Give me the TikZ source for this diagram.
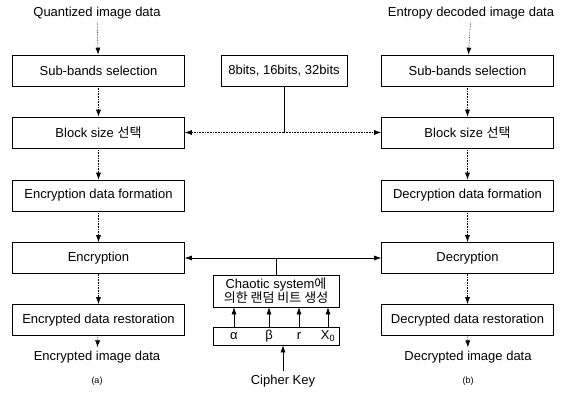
\documentclass[tikz,border=0pt]{standalone}
\usepackage{fontspec}
\setmainfont{Liberation Sans}
\newfontfamily\kr{Noto Sans CJK KR}
\usetikzlibrary{positioning,arrows.meta}

\begin{document}
\begin{tikzpicture}[x=1pt,y=-1pt,font=\fontsize{13}{14}\selectfont,line width=0.6pt,
	blk/.style={draw,minimum width=172pt,minimum height=31pt,inner sep=0pt},
	flow/.style={densely dotted,-{Latex[length=7pt,width=5pt]}},
	feed/.style={-{Latex[length=7pt,width=5pt]}}]
	\useasboundingbox (0,0) rectangle (564,409);
	% encryption side (a)
	\node (qin) at (97,13) {Quantized image data};
	\node[blk] (lsub) at (98.5,70.5) {Sub-bands selection};
	\node[blk] (lblk) at (98.5,132.5) {Block size {\kr 선택}};
	\node[blk] (lform) at (98.5,195.5) {Encryption data formation};
	\node[blk] (lenc) at (98.5,258) {Encryption};
	\node[blk] (lres) at (98.5,320) {Encrypted data restoration};
	\node (lout) at (97,357) {Encrypted image data};
	\node[font=\fontsize{9}{10}\selectfont] (la) at (97,381) {(a)};
	\draw[flow] (qin) -- (lsub);
	\draw[flow] (lsub) -- (lblk);
	\draw[flow] (lblk) -- (lform);
	\draw[flow] (lform) -- (lenc);
	\draw[flow] (lenc) -- (lres);
	\draw[flow] (lres) -- (lout);
	% decryption side (b)
	\node (rin) at (471,13) {Entropy decoded image data};
	\node[blk] (rsub) at (467.5,70.5) {Sub-bands selection};
	\node[blk] (rblk) at (467.5,132.5) {Block size {\kr 선택}};
	\node[blk] (rform) at (467.5,195.5) {Decryption data formation};
	\node[blk] (renc) at (467.5,258) {Decryption};
	\node[blk] (rres) at (467.5,320) {Decrypted data restoration};
	\node (rout) at (468,357) {Decrypted image data};
	\node[font=\fontsize{9}{10}\selectfont] (rb) at (468,381) {(b)};
	\draw[flow] (rin) -- (rsub);
	\draw[flow] (rsub) -- (rblk);
	\draw[flow] (rblk) -- (rform);
	\draw[flow] (rform) -- (renc);
	\draw[flow] (renc) -- (rres);
	\draw[flow] (rres) -- (rout);
	% block size choice
	\node[draw,minimum width=126pt,minimum height=31pt,inner sep=0pt] (bits) at (284,70.5) {8bits, 16bits, 32bits};
	\draw (bits.south) -- (bits.south |- lblk.east) coordinate (bj);
	\draw[flow] (bj) -- (lblk);
	\draw[flow] (bj) -- (rblk);
	% chaotic key stream
	\node[draw,minimum width=126pt,minimum height=32pt,inner sep=0pt,align=center] (chaos) at (276,291)
		{Chaotic system{\kr 에}\\{\kr 의한 랜덤 비트 생성}};
	\node[draw,minimum width=126pt,minimum height=18pt,inner sep=0pt] (par) at (276,336) {};
	\node (pa) at (234,336) {α};
	\node (pb) at (269,336) {β};
	\node (pr) at (299,336) {r};
	\node (px) at (328,336) {X\textsubscript{0}};
	\foreach \p in {pa,pb,pr,px}
		\draw[feed] (\p |- par.north) -- (\p |- chaos.south);
	\draw (chaos.north) -- (chaos.north |- lenc.east) coordinate (cj);
	\draw[feed] (cj) -- (lenc);
	\draw[feed] (cj) -- (renc);
	\node (key) at (283,381) {Cipher Key};
	\draw[feed] (key) -- (key |- par.south);
\end{tikzpicture}
\end{document}
